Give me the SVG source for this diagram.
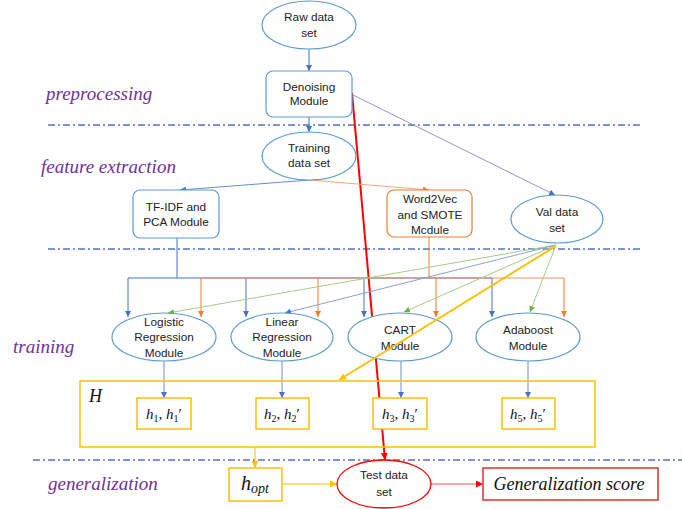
<svg xmlns="http://www.w3.org/2000/svg" width="682" height="509" viewBox="0 0 682 509">
<defs>
<style>
.t{font-family:"Liberation Sans",Arial,sans-serif;font-size:11.8px;fill:#222;text-anchor:middle}
.lab{font-family:"Liberation Serif","Times New Roman",serif;font-style:italic;font-size:19px;fill:#7030A0}
.m{font-family:"Liberation Serif","Times New Roman",serif;fill:#111}
.nb{fill:#fff;stroke:#5B9BD5;stroke-width:1.2}
.yb{fill:#fff;stroke:#FFC000;stroke-width:1.5}
.dash{stroke:#4F72C8;stroke-width:1.3;stroke-dasharray:7 3 2 3;fill:none}
.c{fill:none;stroke-width:1}
</style>
<marker id="ab" viewBox="0 0 10 10" refX="10" refY="5" markerWidth="6" markerHeight="6" orient="auto" markerUnits="userSpaceOnUse"><path d="M0,0 L10,5 L0,10 z" fill="#4472C4"/></marker>
<marker id="ao" viewBox="0 0 10 10" refX="10" refY="5" markerWidth="6" markerHeight="6" orient="auto" markerUnits="userSpaceOnUse"><path d="M0,0 L10,5 L0,10 z" fill="#ED7D31"/></marker>
<marker id="ag" viewBox="0 0 10 10" refX="10" refY="5" markerWidth="6" markerHeight="6" orient="auto" markerUnits="userSpaceOnUse"><path d="M0,0 L10,5 L0,10 z" fill="#70AD47"/></marker>
<marker id="ay" viewBox="0 0 10 10" refX="10" refY="5" markerWidth="7" markerHeight="7" orient="auto" markerUnits="userSpaceOnUse"><path d="M0,0 L10,5 L0,10 z" fill="#FFC000"/></marker>
<marker id="ar" viewBox="0 0 10 10" refX="10" refY="5" markerWidth="7" markerHeight="7" orient="auto" markerUnits="userSpaceOnUse"><path d="M0,0 L10,5 L0,10 z" fill="#FF0000"/></marker>
</defs>
<rect width="682" height="509" fill="#fff"/>

<g id="stage-lines">
<line class="dash" x1="48" y1="125" x2="640" y2="125"/>
<line class="dash" x1="48" y1="249" x2="640" y2="249"/>
<line class="dash" x1="33" y1="460" x2="682" y2="460"/>
</g>

<g id="stage-labels">
<text class="lab" x="46" y="100">preprocessing</text>
<text class="lab" x="41" y="173">feature extraction</text>
<text class="lab" x="13" y="353">training</text>
<text class="lab" x="48" y="490">generalization</text>
</g>

<g id="connectors">
<line x1="352" y1="93" x2="385" y2="460" stroke="#FF0000" stroke-width="2" marker-end="url(#ar)"/>
<line class="c" stroke="#4472C4" x1="309" y1="49" x2="309" y2="71" marker-end="url(#ab)"/>
<line class="c" stroke="#4472C4" x1="309" y1="117" x2="309" y2="132" marker-end="url(#ab)"/>
<line class="c" stroke="#8E96D2" x1="353" y1="95" x2="555" y2="195" marker-end="url(#ab)"/>
<line class="c" stroke="#6A8CD0" x1="310" y1="180" x2="180" y2="190" marker-end="url(#ab)"/>
<line class="c" stroke="#F4A57C" x1="310" y1="180" x2="429" y2="190" marker-end="url(#ao)"/>
<line class="c" stroke="#4472C4" x1="177" y1="238" x2="177" y2="278"/>
<line class="c" stroke="#4472C4" x1="128" y1="278" x2="492" y2="278"/>
<line class="c" stroke="#4472C4" x1="128" y1="278" x2="128" y2="317" marker-end="url(#ab)"/>
<line class="c" stroke="#4472C4" x1="246" y1="278" x2="246" y2="317" marker-end="url(#ab)"/>
<line class="c" stroke="#4472C4" x1="364" y1="278" x2="364" y2="317" marker-end="url(#ab)"/>
<line class="c" stroke="#4472C4" x1="492" y1="278" x2="492" y2="317" marker-end="url(#ab)"/>
<line class="c" stroke="#ED7D31" x1="429" y1="237" x2="429" y2="278"/>
<line class="c" stroke="#F09060" x1="201" y1="278" x2="564" y2="278"/>
<line class="c" stroke="#ED7D31" x1="201" y1="278" x2="201" y2="317" marker-end="url(#ao)"/>
<line class="c" stroke="#ED7D31" x1="318" y1="278" x2="318" y2="317" marker-end="url(#ao)"/>
<line class="c" stroke="#ED7D31" x1="436" y1="278" x2="436" y2="317" marker-end="url(#ao)"/>
<line class="c" stroke="#ED7D31" x1="564" y1="278" x2="564" y2="317" marker-end="url(#ao)"/>
<line class="c" stroke="#A3CC88" x1="556" y1="245" x2="168" y2="313" marker-end="url(#ag)"/>
<line class="c" stroke="#8C9FD6" x1="556" y1="245" x2="285" y2="313" marker-end="url(#ab)"/>
<line class="c" stroke="#A3CC88" x1="556" y1="245" x2="404" y2="312" marker-end="url(#ag)"/>
<line class="c" stroke="#A3CC88" x1="556" y1="245" x2="530" y2="312" marker-end="url(#ag)"/>
<line class="c" stroke="#6A8CD0" x1="164" y1="361" x2="164" y2="398" marker-end="url(#ab)"/>
<line class="c" stroke="#6A8CD0" x1="282" y1="361" x2="282" y2="398" marker-end="url(#ab)"/>
<line class="c" stroke="#6A8CD0" x1="401" y1="361" x2="401" y2="398" marker-end="url(#ab)"/>
<line class="c" stroke="#6A8CD0" x1="528" y1="361" x2="528" y2="398" marker-end="url(#ab)"/>
<line class="c" stroke="#FFC000" x1="255" y1="447" x2="255" y2="468" marker-end="url(#ay)"/>
<line class="c" stroke="#FFC000" x1="282" y1="484" x2="337" y2="484" marker-end="url(#ay)"/>
<line class="c" stroke="#F05050" x1="431" y1="484" x2="483" y2="484" marker-end="url(#ar)"/>
</g>

<g id="raw">
<ellipse class="nb" cx="309" cy="25" rx="47" ry="24"/>
<text class="t" x="309" y="21">Raw data</text>
<text class="t" x="309" y="37">set</text>
</g>
<g id="denoising">
<rect class="nb" x="266" y="71" width="86" height="46" rx="7"/>
<text class="t" x="309" y="91">Denoising</text>
<text class="t" x="309" y="105">Module</text>
</g>
<g id="training-set">
<ellipse class="nb" cx="309" cy="156" rx="47" ry="24"/>
<text class="t" x="309" y="152">Training</text>
<text class="t" x="309" y="167">data set</text>
</g>
<g id="tfidf">
<rect class="nb" x="133" y="190" width="86" height="48" rx="7"/>
<text class="t" x="176" y="211">TF-IDF and</text>
<text class="t" x="176" y="226">PCA Module</text>
</g>
<g id="word2vec">
<rect x="387" y="190" width="85" height="47" rx="7" fill="#fff" stroke="#ED7D31" stroke-width="1.2"/>
<text class="t" x="430" y="203">Word2Vec</text>
<text class="t" x="430" y="219">and SMOTE</text>
<text class="t" x="430" y="234">Mcdule</text>
</g>
<g id="val">
<ellipse class="nb" cx="557" cy="219" rx="46" ry="24"/>
<text class="t" x="557" y="216">Val data</text>
<text class="t" x="557" y="232">set</text>
</g>
<g id="logistic">
<ellipse class="nb" cx="164" cy="337" rx="52" ry="24"/>
<text class="t" x="164" y="326">Logistic</text>
<text class="t" x="164" y="341">Regression</text>
<text class="t" x="164" y="357">Module</text>
</g>
<g id="linear">
<ellipse class="nb" cx="282" cy="337" rx="51" ry="24"/>
<text class="t" x="282" y="326">Linear</text>
<text class="t" x="282" y="341">Regression</text>
<text class="t" x="282" y="357">Module</text>
</g>
<g id="cart">
<ellipse class="nb" cx="400" cy="337" rx="52" ry="24"/>
<text class="t" x="400" y="334">CART</text>
<text class="t" x="400" y="350">Module</text>
</g>
<g id="adaboost">
<ellipse class="nb" cx="528" cy="337" rx="52" ry="24"/>
<text class="t" x="528" y="334">Adaboost</text>
<text class="t" x="528" y="350">Module</text>
</g>

<g id="H">
<rect x="80" y="381" width="515" height="66" fill="none" stroke="#FFC000" stroke-width="1.5"/>
<text class="m" x="89" y="402" font-size="18" font-style="italic">H</text>
</g>
<g id="h1">
<rect class="yb" x="137" y="398" width="54" height="31"/>
<text class="m" x="164" y="419" font-size="15" text-anchor="middle"><tspan font-style="italic">h</tspan><tspan font-size="10" dy="3">1</tspan><tspan dy="-3">, </tspan><tspan font-style="italic">h</tspan><tspan font-size="10" dy="3">1</tspan><tspan dy="-3">′</tspan></text>
</g>
<g id="h2">
<rect class="yb" x="256" y="398" width="53" height="31"/>
<text class="m" x="282" y="419" font-size="15" text-anchor="middle"><tspan font-style="italic">h</tspan><tspan font-size="10" dy="3">2</tspan><tspan dy="-3">, </tspan><tspan font-style="italic">h</tspan><tspan font-size="10" dy="3">2</tspan><tspan dy="-3">′</tspan></text>
</g>
<g id="h3">
<rect class="yb" x="373" y="398" width="54" height="31"/>
<text class="m" x="400" y="419" font-size="15" text-anchor="middle"><tspan font-style="italic">h</tspan><tspan font-size="10" dy="3">3</tspan><tspan dy="-3">, </tspan><tspan font-style="italic">h</tspan><tspan font-size="10" dy="3">3</tspan><tspan dy="-3">′</tspan></text>
</g>
<g id="h5">
<rect class="yb" x="502" y="398" width="53" height="31"/>
<text class="m" x="528" y="419" font-size="15" text-anchor="middle"><tspan font-style="italic">h</tspan><tspan font-size="10" dy="3">5</tspan><tspan dy="-3">, </tspan><tspan font-style="italic">h</tspan><tspan font-size="10" dy="3">5</tspan><tspan dy="-3">′</tspan></text>
</g>
<g id="hopt">
<rect class="yb" x="229" y="468" width="53" height="33"/>
<text class="m" x="255" y="490" font-size="20" text-anchor="middle"><tspan font-style="italic">h</tspan><tspan font-size="14" font-style="italic" dy="3">opt</tspan></text>
</g>
<g id="test">
<ellipse cx="384" cy="484" rx="47" ry="24" fill="#fff" stroke="#FF0000" stroke-width="1.3"/>
<text class="t" x="384" y="479">Test data</text>
<text class="t" x="384" y="496">set</text>
</g>
<g id="gen-score">
<rect x="483" y="468" width="175" height="32" fill="#fff" stroke="#E03030" stroke-width="1.5"/>
<text class="m" x="569" y="490" font-size="18" font-style="italic" text-anchor="middle">Generalization score</text>
</g>

<g id="connectors-top">
<line x1="556" y1="246" x2="339" y2="380" stroke="#FFC000" stroke-width="2" marker-end="url(#ay)"/>
</g>
</svg>
